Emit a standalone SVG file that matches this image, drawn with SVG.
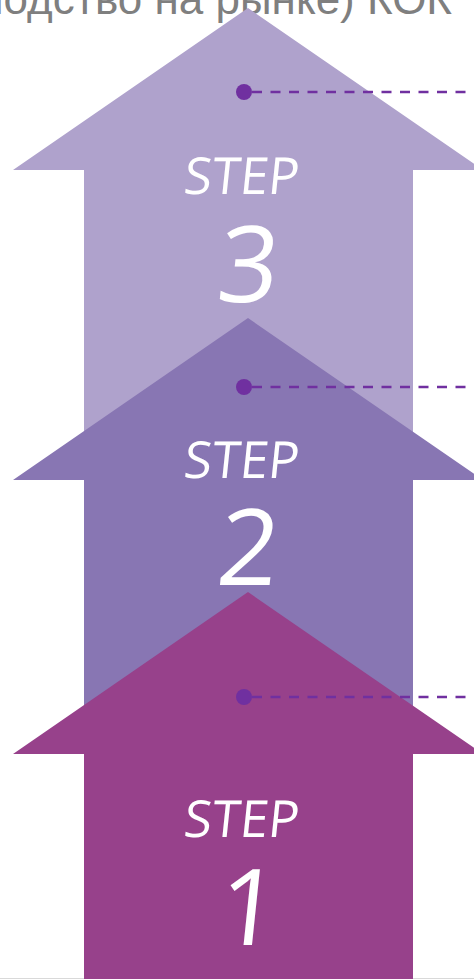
<svg xmlns="http://www.w3.org/2000/svg" width="474" height="979" viewBox="0 0 474 979">
  <style>
    .title { font-family: "Liberation Sans", Arial, sans-serif; font-size: 44px; fill: #7f7f7f; }
    .step { font-family: "Open Sans", "DejaVu Sans", sans-serif; font-size: 51px; fill: #ffffff; text-anchor: middle; }
    .num { font-family: "Open Sans", "DejaVu Sans", sans-serif; font-size: 106px; font-weight: 500; fill: #ffffff; text-anchor: middle; }
    .dot { fill: #7030a0; }
    .lead { stroke: #7030a0; stroke-width: 2.5; stroke-dasharray: 10 8.5; fill: none; }
  </style>
  <defs>
    <path id="arrow" d="M248 0 L483 162 L413 162 L413 1000 L84 1000 L84 162 L13 162 Z"/>
  </defs>
  <rect width="474" height="979" fill="#ffffff"/>
  <line x1="0" y1="978.5" x2="474" y2="978.5" stroke="#d9d9d9" stroke-width="1"/>
  <text class="title" x="452" y="14" text-anchor="end">господство на рынке) КОК</text>

  <g id="step3">
    <use href="#arrow" x="0" y="8" fill="#afa2cc"/>
    <text class="step" transform="translate(240,194) skewX(-6)">STEP</text>
    <text class="num" transform="translate(245,302) skewX(-6)">3</text>
  </g>
  <g id="connector3">
    <circle class="dot" cx="244" cy="92" r="8"/>
    <line class="lead" x1="252" y1="92" x2="474" y2="92"/>
  </g>

  <g id="step2">
    <use href="#arrow" x="0" y="318" fill="#8876b3"/>
    <text class="step" transform="translate(240,478) skewX(-6)">STEP</text>
    <text class="num" transform="translate(245,585) skewX(-6)">2</text>
  </g>
  <g id="connector2">
    <circle class="dot" cx="244" cy="387" r="8"/>
    <line class="lead" x1="252" y1="387" x2="474" y2="387"/>
  </g>

  <g id="step1">
    <use href="#arrow" x="0" y="592" fill="#97418b"/>
    <text class="step" transform="translate(240,837) skewX(-6)">STEP</text>
    <text class="num" transform="translate(245,945) skewX(-6)">1</text>
  </g>
  <g id="connector1">
    <circle class="dot" cx="244" cy="697" r="8"/>
    <line class="lead" x1="252" y1="697" x2="474" y2="697"/>
  </g>
</svg>
